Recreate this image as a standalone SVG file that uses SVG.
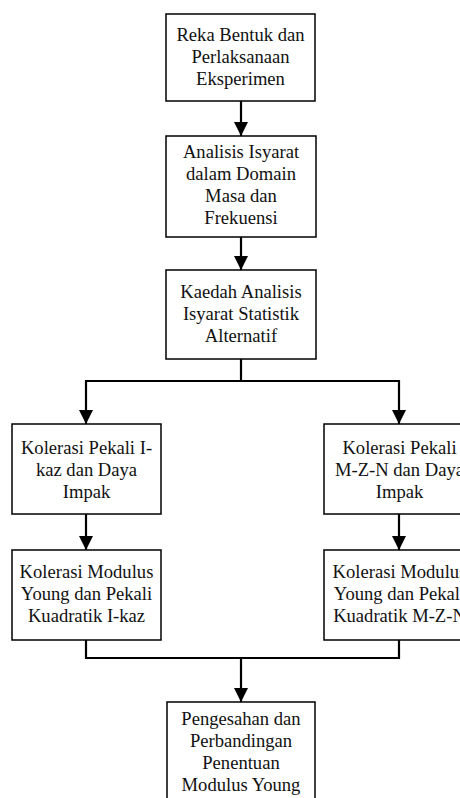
<svg xmlns="http://www.w3.org/2000/svg" width="460" height="798" viewBox="0 0 460 798">
<style>
.box{fill:#fff;stroke:#000;stroke-width:1.5}
.t{font-family:"Liberation Serif","Times New Roman",serif;font-size:18.6px;fill:#111;text-anchor:middle}
.c{fill:none;stroke:#000;stroke-width:2.2}
</style>
<defs>
<marker id="ah" viewBox="0 0 14 14" refX="14" refY="7" markerWidth="14" markerHeight="14" orient="auto" markerUnits="userSpaceOnUse">
<path d="M0,0 L14,7 L0,14 z" fill="#000"/>
</marker>
</defs>
<rect width="460" height="798" fill="#fff"/>
<g id="connectors">
<line class="c" x1="241" y1="101" x2="241" y2="136" marker-end="url(#ah)"/>
<line class="c" x1="241" y1="237" x2="241" y2="270" marker-end="url(#ah)"/>
<polyline class="c" points="241,359 241,381"/>
<polyline class="c" points="86,381 399,381"/>
<line class="c" x1="86" y1="380" x2="86" y2="424" marker-end="url(#ah)"/>
<line class="c" x1="399" y1="380" x2="399" y2="424" marker-end="url(#ah)"/>
<line class="c" x1="86" y1="514" x2="86" y2="550" marker-end="url(#ah)"/>
<line class="c" x1="399" y1="514" x2="399" y2="550" marker-end="url(#ah)"/>
<polyline class="c" points="86,640 86,658 399,658 399,640"/>
<line class="c" x1="241" y1="658" x2="241" y2="702" marker-end="url(#ah)"/>
</g>
<g id="n1">
<rect class="box" x="166" y="14" width="149" height="87"/>
<text class="t"><tspan x="240.5" y="41">Reka Bentuk dan</tspan><tspan x="240.5" y="63">Perlaksanaan</tspan><tspan x="240.5" y="85">Eksperimen</tspan></text>
</g>
<g id="n2">
<rect class="box" x="166" y="136" width="150" height="101"/>
<text class="t"><tspan x="241" y="158">Analisis Isyarat</tspan><tspan x="241" y="180">dalam Domain</tspan><tspan x="241" y="202">Masa dan</tspan><tspan x="241" y="224">Frekuensi</tspan></text>
</g>
<g id="n3">
<rect class="box" x="166" y="270" width="150" height="89"/>
<text class="t"><tspan x="241" y="298">Kaedah Analisis</tspan><tspan x="241" y="320">Isyarat Statistik</tspan><tspan x="241" y="342">Alternatif</tspan></text>
</g>
<g id="n4">
<rect class="box" x="12" y="424" width="149" height="90"/>
<text class="t"><tspan x="86.5" y="454">Kolerasi Pekali I-</tspan><tspan x="86.5" y="476">kaz dan Daya</tspan><tspan x="86.5" y="498">Impak</tspan></text>
</g>
<g id="n5">
<rect class="box" x="324" y="424" width="151" height="90"/>
<text class="t"><tspan x="399.5" y="454">Kolerasi Pekali</tspan><tspan x="399.5" y="476">M-Z-N dan Daya</tspan><tspan x="399.5" y="498">Impak</tspan></text>
</g>
<g id="n6">
<rect class="box" x="12" y="550" width="149" height="90"/>
<text class="t"><tspan x="86.5" y="578">Kolerasi Modulus</tspan><tspan x="86.5" y="600">Young dan Pekali</tspan><tspan x="86.5" y="622">Kuadratik I-kaz</tspan></text>
</g>
<g id="n7">
<rect class="box" x="324" y="550" width="151" height="90"/>
<text class="t"><tspan x="399.5" y="578">Kolerasi Modulus</tspan><tspan x="399.5" y="600">Young dan Pekali</tspan><tspan x="399.5" y="622">Kuadratik M-Z-N</tspan></text>
</g>
<g id="n8">
<rect class="box" x="167" y="702" width="148" height="106"/>
<text class="t"><tspan x="241" y="725">Pengesahan dan</tspan><tspan x="241" y="747">Perbandingan</tspan><tspan x="241" y="769">Penentuan</tspan><tspan x="241" y="791">Modulus Young</tspan></text>
</g>
</svg>
